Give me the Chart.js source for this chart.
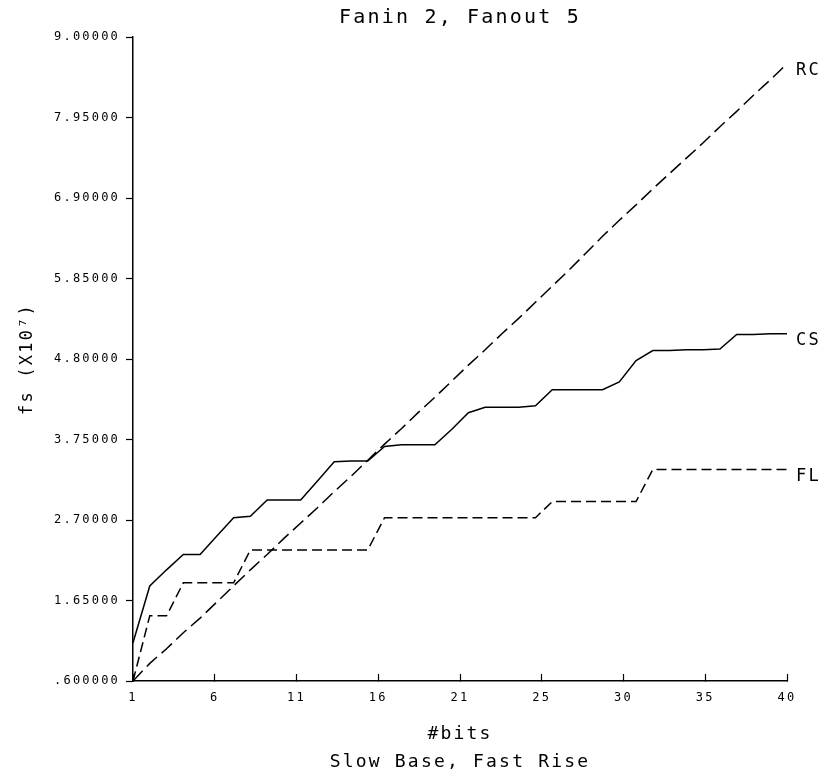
<!DOCTYPE html>
<html>
<head>
<meta charset="utf-8">
<title>Fanin 2, Fanout 5</title>
<script src="https://cdn.jsdelivr.net/npm/chart.js@4.4.1/dist/chart.umd.min.js"></script>
<style>
  html, body { margin: 0; padding: 0; background: #fff; }
</style>
</head>
<body>
<canvas id="grafico" width="826" height="776"></canvas>
<script>
// #bits on the x axis
const bits = [1, 2, 3, 4, 5, 6, 7, 8, 9, 10,
              11, 12, 13, 14, 15, 16, 17, 18, 19, 20,
              21, 22, 23, 24, 25, 26, 27, 28, 29, 30,
              31, 32, 33, 34, 35, 36, 37, 38, 39, 40];

// fs (X10^7)
const rcValues = [0.60, 0.83, 1.02, 1.23, 1.42, 1.63, 1.84, 2.05, 2.25, 2.46,
                  2.66, 2.86, 3.07, 3.27, 3.48, 3.69, 3.89, 4.10, 4.30, 4.51,
                  4.72, 4.92, 5.13, 5.33, 5.54, 5.75, 5.96, 6.18, 6.40, 6.61,
                  6.81, 7.02, 7.22, 7.42, 7.62, 7.83, 8.03, 8.24, 8.44, 8.65];
const csValues = [1.10, 1.84, 2.05, 2.25, 2.25, 2.49, 2.73, 2.75, 2.96, 2.96,
                  2.96, 3.21, 3.46, 3.47, 3.47, 3.66, 3.68, 3.68, 3.68, 3.88,
                  4.10, 4.17, 4.17, 4.17, 4.19, 4.40, 4.40, 4.40, 4.40, 4.50,
                  4.78, 4.91, 4.91, 4.92, 4.92, 4.93, 5.12, 5.12, 5.13, 5.13];
const flValues = [0.60, 1.45, 1.45, 1.88, 1.88, 1.88, 1.88, 2.31, 2.31, 2.31,
                  2.31, 2.31, 2.31, 2.31, 2.31, 2.73, 2.73, 2.73, 2.73, 2.73,
                  2.73, 2.73, 2.73, 2.73, 2.73, 2.94, 2.94, 2.94, 2.94, 2.94,
                  2.94, 3.36, 3.36, 3.36, 3.36, 3.36, 3.36, 3.36, 3.36, 3.36];

const xTickLabels = ['1', '6', '11', '16', '21', '25', '30', '35', '40'];
const yTickLabels = ['.600000', '1.65000', '2.70000', '3.75000', '4.80000',
                     '5.85000', '6.90000', '7.95000', '9.00000'];

const FONT = "'DejaVu Sans Mono', monospace";
Chart.defaults.font.family = FONT;
Chart.defaults.color = '#000';

const toPoints = vals => bits.map((b, i) => ({ x: b, y: vals[i] }));

// plotter-like wide lettering
const espaciado = {
    id: 'espaciado',
    beforeDraw(chart) { chart.ctx.letterSpacing = '2.2px'; }
};

// RC / CS / FL names at the end of each curve
const etiquetas = {
    id: 'etiquetas',
    afterDatasetsDraw(chart) {
        const ctx = chart.ctx;
        ctx.save();
        ctx.font = '17px ' + FONT;
        ctx.fillStyle = '#000';
        ctx.textBaseline = 'middle';
        chart.data.datasets.forEach((ds, i) => {
            const pts = chart.getDatasetMeta(i).data;
            const last = pts[pts.length - 1];
            ctx.fillText(ds.label, last.x + 9, last.y + 7);
        });
        ctx.restore();
    }
};

const xMin = bits[0];
const xMax = bits[bits.length - 1];

new Chart(document.getElementById('grafico').getContext('2d'), {
    type: 'line',
    data: {
        datasets: [
            { label: 'RC', data: toPoints(rcValues), borderColor: '#000', borderWidth: 1.5,
              borderDash: [14, 6], pointRadius: 0, tension: 0, fill: false },
            { label: 'CS', data: toPoints(csValues), borderColor: '#000', borderWidth: 1.5,
              pointRadius: 0, tension: 0, fill: false },
            { label: 'FL', data: toPoints(flValues), borderColor: '#000', borderWidth: 1.5,
              borderDash: [10, 5], pointRadius: 0, tension: 0, fill: false }
        ]
    },
    options: {
        responsive: false,
        animation: false,
        layout: { padding: { left: 0, right: 39, top: 0, bottom: 0 } },
        plugins: {
            legend: { display: false },
            tooltip: { enabled: false },
            title: {
                display: true,
                text: 'Fanin 2, Fanout 5',
                fullSize: false,
                color: '#000',
                font: { family: FONT, size: 20, weight: 'normal', lineHeight: 1.2 },
                padding: { top: 6, bottom: 7 }
            }
        },
        scales: {
            x: {
                type: 'linear',
                min: xMin,
                max: xMax,
                border: { color: '#000', width: 1.5 },
                grid: { drawOnChartArea: false, tickLength: -7, tickColor: '#000', tickWidth: 1.2 },
                afterBuildTicks: s => {
                    const n = xTickLabels.length - 1;
                    s.ticks = xTickLabels.map((t, i) => ({ value: xMin + i * (xMax - xMin) / n }));
                },
                afterFit: s => { s.height = 95; },
                ticks: {
                    autoSkip: false, maxRotation: 0, padding: 17, color: '#000',
                    font: { family: FONT, size: 12 },
                    callback: (v, i) => xTickLabels[i]
                },
                title: {
                    display: true,
                    text: ['#bits', 'Slow Base, Fast Rise'],
                    color: '#000',
                    font: { family: FONT, size: 18, lineHeight: 28 / 18 },
                    padding: { top: 0, bottom: 0 }
                }
            },
            y: {
                type: 'linear',
                min: parseFloat(yTickLabels[0]),
                max: parseFloat(yTickLabels[yTickLabels.length - 1]),
                border: { color: '#000', width: 1.5 },
                grid: { drawOnChartArea: false, tickLength: 7, tickColor: '#000', tickWidth: 1.2 },
                afterBuildTicks: s => {
                    s.ticks = yTickLabels.map(t => ({ value: parseFloat(t) }));
                },
                afterFit: s => { s.width = 133; },
                ticks: {
                    autoSkip: false, padding: 6, color: '#000',
                    font: { family: FONT, size: 12 },
                    callback: (v, i) => yTickLabels[i]
                },
                title: {
                    display: true,
                    text: 'fs (X10⁷)',
                    color: '#000',
                    font: { family: FONT, size: 17, lineHeight: 1.2 },
                    padding: { top: 17, bottom: 0 }
                }
            }
        }
    },
    plugins: [espaciado, etiquetas]
});
</script>
</body>
</html>
